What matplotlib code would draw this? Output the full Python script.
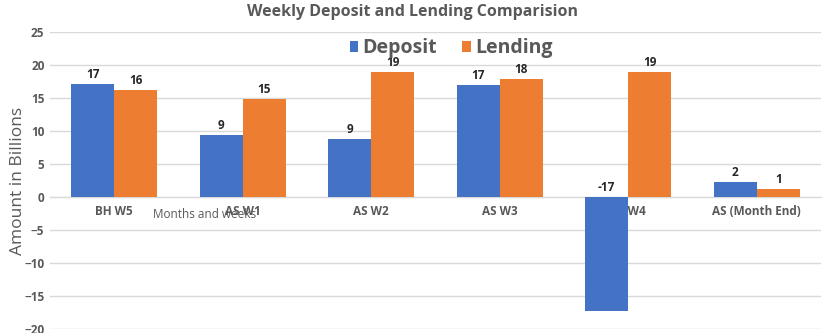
import numpy as np
import matplotlib
matplotlib.use('Agg')
import matplotlib.pyplot as plt

plt.rcParams['font.family'] = ['Open Sans', 'DejaVu Sans']

weeks = ['BH W5', 'AS W1', 'AS W2', 'AS W3', 'AS W4', 'AS (Month End)']
deposit = [17.1, 9.4, 8.8, 17.0, -17.3, 2.3]
lending = [16.2, 14.9, 18.9, 17.9, 18.9, 1.2]

blue = '#4472C4'
orange = '#ED7D31'
grey = '#595959'

fig = plt.figure(figsize=(8.25, 3.33), dpi=100)
ax = fig.add_axes([50/825, 4/333, 771/825, 297/333])

x = np.arange(len(weeks))
w = 0.335
b1 = ax.bar(x - w/2, deposit, w, color=blue, label='Deposit', zorder=3)
b2 = ax.bar(x + w/2, lending, w, color=orange, label='Lending', zorder=3)

# value labels
for i in range(len(weeks)):
    for xx, v in [(x[i] - w/2, deposit[i]), (x[i] + w/2, lending[i])]:
        y = max(v, 0)
        ax.annotate('%d' % round(v), (xx, y), xytext=(0, 2), textcoords='offset points',
                    ha='center', va='bottom', fontsize=8.5, fontweight='bold', color='#262626', zorder=5)

ax.set_xlim(-0.5, len(weeks) - 0.5)
ax.set_ylim(-20, 25)
ax.set_yticks(range(-20, 26, 5))
ax.grid(axis='y', color='#D9D9D9', linewidth=1, zorder=0)
for s in ['top', 'right', 'left']:
    ax.spines[s].set_visible(False)
ax.spines['bottom'].set_position(('data', 0))
ax.spines['bottom'].set_color('#D9D9D9')
ax.spines['bottom'].set_zorder(1)
ax.set_xticks(x)
ax.set_xticklabels(weeks, fontsize=8.5, fontweight='bold', color=grey)
ax.tick_params(axis='x', length=0, pad=6)
ax.tick_params(axis='y', length=0, labelsize=8.5, labelcolor=grey, pad=4)
for t in ax.get_yticklabels():
    t.set_fontweight('bold')
for t in ax.get_xticklabels():
    t.set_zorder(2)

ax.set_ylabel('Amount in Billions', fontsize=12.5, color=grey)
ax.yaxis.set_label_coords(-0.031, 0.5)
fig.text(0.5, 0.965, 'Weekly Deposit and Lending Comparision', ha='center', va='center',
         fontsize=11.5, fontweight='bold', color=grey)
fig.text(205/825, 1 - 214/333, 'Months and weeks', ha='center', va='center',
         fontsize=8.5, color=grey)

ax.legend(loc='center', bbox_to_anchor=(0.52, 0.945), ncol=2, frameon=False,
          prop={'size': 14, 'weight': 'bold'}, handlelength=0.45, handleheight=0.45,
          handletextpad=0.2, columnspacing=1.3, labelcolor=grey)

fig.savefig('out.png', dpi=100)
